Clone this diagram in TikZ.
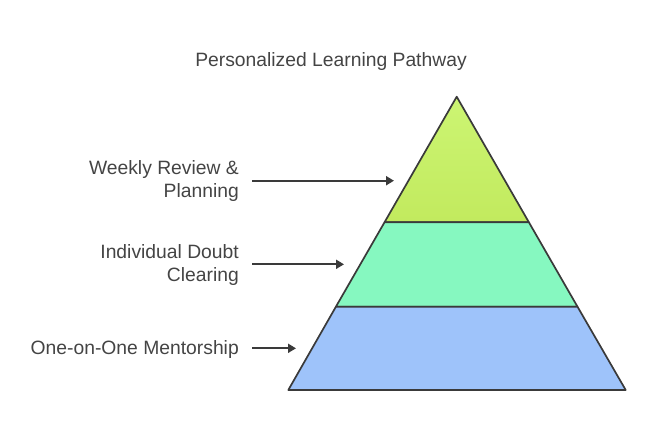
\documentclass[tikz,border=0pt]{standalone}
\usepackage{fontspec}
\setmainfont{Liberation Sans}
\usetikzlibrary{arrows.meta}
\definecolor{txt}{HTML}{444444}
\definecolor{edge}{HTML}{3A3A3A}
\definecolor{lvlA}{HTML}{CCF573}
\definecolor{lvlAb}{HTML}{C2EA5E}
\definecolor{lvlB}{HTML}{86F8C0}
\definecolor{lvlC}{HTML}{9EC3FA}
\tikzset{
  lbl/.style={text=txt, font=\fontsize{19.3}{23}\selectfont, align=right, anchor=east, inner sep=0pt},
  ttl/.style={text=txt, font=\fontsize{19.3}{23}\selectfont, inner sep=0pt},
  pyr/.style={draw=edge, line width=1.7pt, line join=round},
  arr/.style={draw=edge, line width=2pt, -{Triangle[length=8pt,width=9pt]}}
}
\begin{document}
\begin{tikzpicture}[x=1pt,y=-1pt]
\useasboundingbox (0,0) rectangle (652,440);
\node[ttl] (title) at (331,62) {Personalized Learning Pathway};
% pyramid corners
\coordinate (apex) at (456.7,96.7);
\coordinate (l1) at (384.5,222.3);
\coordinate (r1) at (528.9,222.3);
\coordinate (l2) at (335.9,306.7);
\coordinate (r2) at (577.5,306.7);
\coordinate (bl) at (288.3,390);
\coordinate (br) at (625.7,390);
\shade[top color=lvlA, bottom color=lvlAb] (apex) -- (r1) -- (l1) -- cycle;
\draw[pyr] (apex) -- (r1) -- (l1) -- cycle;
\draw[pyr, fill=lvlB] (l1) -- (r1) -- (r2) -- (l2) -- cycle;
\draw[pyr, fill=lvlC] (l2) -- (r2) -- (br) -- (bl) -- cycle;
% labels
\node[lbl] (la) at (239,181.5) {Weekly Review \&\\Planning};
\node[lbl] (lb) at (239,265.5) {Individual Doubt\\Clearing};
\node[lbl] (lc) at (239,349) {One-on-One Mentorship};
\coordinate (sa) at (252,180.7);
\coordinate (sb) at (252,264.3);
\coordinate (sc) at (252,348.3);
\coordinate (ta) at (394,180.7);
\coordinate (tb) at (344,264.3);
\coordinate (tc) at (296,348.3);
\draw[arr] (sa) -- (ta);
\draw[arr] (sb) -- (tb);
\draw[arr] (sc) -- (tc);
\end{tikzpicture}
\end{document}
